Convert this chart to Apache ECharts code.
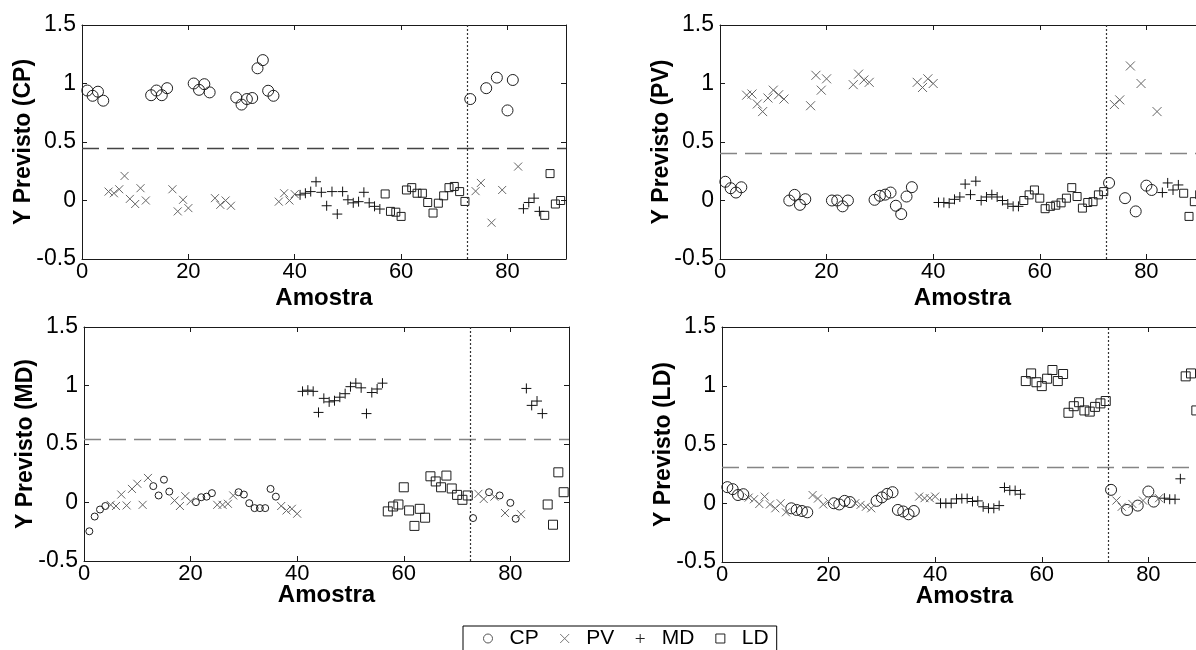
<!DOCTYPE html>
<html><head><meta charset="utf-8">
<script src="https://cdn.jsdelivr.net/npm/echarts/dist/echarts.min.js"></script>
<style>html,body{margin:0;padding:0;background:#fff}#c{width:1196px;height:650px}</style>
</head><body><div id="c"></div>
<script>
// ---- sample indices per class ----
const cpIdx = [1,2,3,4,13,14,15,16,21,22,23,24,29,30,31,32,33,34,35,36,73,76,78,80,81];
const pvIdx = [5,6,7,8,9,10,11,12,17,18,19,20,25,26,27,28,37,38,39,40,74,75,77,79,82];
const mdIdx = [41,42,43,44,45,46,47,48,49,50,51,52,53,54,55,56,83,84,85,86];
const ldIdx = [57,58,59,60,61,62,63,64,65,66,67,68,69,70,71,72,87,88,89,90];

// ---- panel 1: Y Previsto (CP) ----
const p1CP = [0.94,0.895,0.93,0.853,0.90,0.94,0.90,0.96,1.0,0.946,0.994,0.924,0.88,0.82,0.867,0.876,1.13,1.2,0.938,0.895,0.867,0.96,1.05,0.77,1.03];
const p1PV = [0.076,0.062,0.096,0.21,0.014,-0.03,0.105,0.0,0.096,-0.093,0.006,-0.065,0.02,-0.037,0.0,-0.045,-0.01,0.062,0.0,0.054,0.08,0.15,-0.19,0.09,0.29];
const p1MD = [0.048,0.062,0.076,0.16,0.07,-0.045,0.076,-0.116,0.076,0.006,-0.02,-0.01,0.07,-0.02,-0.05,-0.073,-0.07,-0.017,0.02,-0.093];
const p1LD = [0.056,-0.093,-0.1,-0.136,0.09,0.11,0.062,0.062,-0.017,-0.107,-0.023,0.04,0.11,0.12,0.076,-0.008,-0.127,0.23,-0.03,0.0];

// ---- panel 2: Y Previsto (PV) ----
const p2CP = [0.16,0.105,0.068,0.113,0.0,0.048,-0.037,0.011,0.0,0.0,-0.05,0.0,0.006,0.04,0.05,0.068,-0.045,-0.116,0.034,0.114,0.15,0.02,-0.093,0.127,0.09];
const p2PV = [0.90,0.91,0.825,0.76,0.876,0.943,0.904,0.867,0.81,1.07,0.943,1.04,0.99,1.08,1.03,1.01,1.01,0.966,1.04,1.0,0.82,0.86,1.15,1.0,0.76];
const p2MD = [-0.017,-0.017,-0.023,0.01,0.03,0.14,0.05,0.165,0.0,0.03,0.05,0.03,0.0,-0.03,-0.05,-0.05,0.068,0.15,0.09,0.133];
const p2LD = [0.0,0.048,0.09,0.02,-0.07,-0.05,-0.04,-0.02,0.02,0.11,0.034,-0.065,-0.017,-0.01,0.048,0.076,0.062,-0.136,-0.01,0.05];

// ---- panel 3: Y Previsto (MD) ----
const p3CP = [-0.246,-0.12,-0.06,-0.03,0.14,0.06,0.195,0.093,0.003,0.045,0.05,0.08,0.088,0.068,-0.006,-0.048,-0.048,-0.048,0.116,0.05,-0.133,0.088,0.06,-0.003,-0.139];
const p3PV = [-0.02,-0.03,0.068,-0.025,0.116,0.16,-0.02,0.21,0.017,-0.03,0.054,0.011,-0.02,-0.02,-0.011,0.06,-0.03,-0.068,-0.054,-0.096,0.074,0.03,0.05,-0.09,-0.1];
const p3MD = [0.95,0.96,0.95,0.77,0.89,0.86,0.87,0.90,0.93,0.99,1.02,0.98,0.76,0.94,0.97,1.02,0.975,0.83,0.867,0.76];
const p3LD = [-0.076,-0.034,-0.017,0.13,-0.068,-0.2,-0.054,-0.13,0.224,0.18,0.13,0.23,0.12,0.065,0.023,0.06,-0.017,-0.19,0.258,0.088];

// ---- panel 4: Y Previsto (LD) ----
const p4CP = [0.137,0.12,0.07,0.077,-0.043,-0.057,-0.066,-0.077,0.0,-0.01,0.02,0.01,0.02,0.05,0.08,0.094,-0.057,-0.07,-0.094,-0.066,0.114,-0.057,-0.02,0.1,0.014];
const p4PV = [0.048,0.034,-0.006,0.057,-0.01,-0.043,0.0,-0.077,0.07,0.04,-0.01,0.014,0.0,-0.014,-0.03,-0.043,0.057,0.043,0.043,0.057,0.023,-0.03,-0.006,0.023,0.043];
const p4MD = [0.0,0.0,0.0,0.037,0.04,0.04,0.015,0.02,-0.03,-0.043,-0.043,-0.02,0.134,0.11,0.108,0.077,0.043,0.034,0.034,0.208];
const p4LD = [1.04,1.105,1.03,0.997,1.06,1.134,1.04,1.10,0.77,0.826,0.86,0.79,0.78,0.82,0.85,0.87,1.08,1.105,0.79,null];

// ---- labels, thresholds, ticks ----
const classNames = ['CP','PV','MD','LD'];
const yNames = ['Y Previsto (CP)','Y Previsto (PV)','Y Previsto (MD)','Y Previsto (LD)'];
const xName = 'Amostra';
const thresholds = [0.45, 0.40, 0.54, 0.31];
const trainTestSplit = 72.5;
const xTicks = [0,20,40,60,80];
const xMax = 91;
const yTicks = [-0.5,0,0.5,1,1.5];

const panelValues = [
  [p1CP,p1PV,p1MD,p1LD],
  [p2CP,p2PV,p2MD,p2LD],
  [p3CP,p3PV,p3MD,p3LD],
  [p4CP,p4PV,p4MD,p4LD]
];
const classIdx = [cpIdx,pvIdx,mdIdx,ldIdx];

// ---- styling ----
const FONT = 'Arial, "Liberation Sans", Helvetica, sans-serif';
const grids = [
  {left:82, top:25, width:484, height:234},
  {left:720, top:25, width:485, height:234},
  {left:84, top:327, width:485, height:234},
  {left:722, top:327, width:485, height:235}
];
const xNameGaps = [27, 27, 22, 22];
const thrColors = ['#444444','#858585','#858585','#858585'];
const symbols = ['circle','path://M0,0L10,10M10,0L0,10','path://M5,0L5,10M0,5L10,5','rect'];
const symColors = ['#1e1e1e','#666666','#111111','#1e1e1e'];
const legendColors = ['#555555','#777777','#222222','#222222'];
const symSizes = [
  [11,8,10,8],
  [11,9,10,8],
  [7,8,10,9],
  [11,8,10,9]
];
const AX = '#1a1a1a';

const option = {
  animation: false,
  backgroundColor: '#fff',
  grid: grids.map(g => Object.assign({containLabel:false, outerBoundsMode:'none', show:false}, g)),
  xAxis: [],
  yAxis: [],
  series: [],
  legend: {
    data: classNames.map((n,i) => ({
      name:n,
      itemStyle:{color:'rgba(0,0,0,0)', borderColor:legendColors[i], borderWidth:1}
    })),
    left: 463, top: 626,
    orient: 'horizontal',
    borderColor: '#000', borderWidth: 1,
    padding: [2, 8, 12, 20],
    itemGap: 21, itemWidth: 9, itemHeight: 9,
    textStyle: {fontSize: 21, color: '#000', fontFamily: FONT, padding: [0,0,0,12]},
    selectedMode: false
  }
};

for (let p = 0; p < 4; p++) {
  const tickStyle = {show:true, inside:true, length:5, lineStyle:{color:AX, width:1}};
  option.xAxis.push({
    type:'value', gridIndex:p, position:'bottom', min:0, max:xMax, interval:xTicks[1]-xTicks[0],
    axisLine:{show:true, onZero:false, lineStyle:{color:AX, width:1}},
    axisTick:tickStyle, splitLine:{show:false},
    axisLabel:{show:true, margin:2, showMaxLabel:false, fontSize:22, color:'#000', fontFamily:FONT,
      formatter: v => xTicks.includes(v) ? String(v) : ''},
    name:xName, nameLocation:'middle', nameGap:xNameGaps[p], nameMoveOverlap:false,
    nameTextStyle:{fontSize:24, fontWeight:'bold', color:'#000', fontFamily:FONT, verticalAlign:'top'}
  });
  option.xAxis.push({
    type:'value', gridIndex:p, position:'top', min:0, max:xMax, interval:xTicks[1]-xTicks[0],
    axisLine:{show:true, onZero:false, lineStyle:{color:AX, width:1}},
    axisTick:tickStyle, splitLine:{show:false}, axisLabel:{show:false}
  });
  option.yAxis.push({
    type:'value', gridIndex:p, position:'left', min:yTicks[0], max:yTicks[yTicks.length-1], interval:yTicks[1]-yTicks[0],
    axisLine:{show:true, onZero:false, lineStyle:{color:AX, width:1}},
    axisTick:tickStyle, splitLine:{show:false},
    axisLabel:{show:true, margin:6, fontSize:23, color:'#000', fontFamily:FONT},
    name:yNames[p], nameLocation:'middle', nameGap:47, nameMoveOverlap:false,
    nameTextStyle:{fontSize:23, fontWeight:'bold', color:'#000', fontFamily:FONT}
  });
  option.yAxis.push({
    type:'value', gridIndex:p, position:'right', min:yTicks[0], max:yTicks[yTicks.length-1], interval:yTicks[1]-yTicks[0],
    axisLine:{show:true, onZero:false, lineStyle:{color:AX, width:1}},
    axisTick:tickStyle, splitLine:{show:false}, axisLabel:{show:false}
  });

  for (let c = 0; c < 4; c++) {
    const idx = classIdx[c], vals = panelValues[p][c];
    const data = [];
    idx.forEach((x,k) => { if (vals[k] !== null && vals[k] !== undefined) data.push([x, vals[k]]); });
    const s = {
      type:'scatter', name:classNames[c], xAxisIndex:2*p, yAxisIndex:2*p,
      data:data, symbol:symbols[c], symbolSize:symSizes[p][c],
      itemStyle:{color:'rgba(0,0,0,0)', borderColor:symColors[c], borderWidth:1, opacity:1},
      emphasis:{disabled:true}, silent:true, z:3
    };
    if (c === 0) {
      s.markLine = {
        silent:true, symbol:['none','none'], label:{show:false}, animation:false, z:2,
        data:[
          {yAxis:thresholds[p], lineStyle:{type:[17,8], color:thrColors[p], width:1.4}},
          {xAxis:trainTestSplit, lineStyle:{type:[2,2], color:'#333', width:1.2}}
        ]
      };
    }
    option.series.push(s);
  }
}

const chart = echarts.init(document.getElementById('c'), null, {renderer:'canvas'});
chart.setOption(option);
</script>
</body></html>
